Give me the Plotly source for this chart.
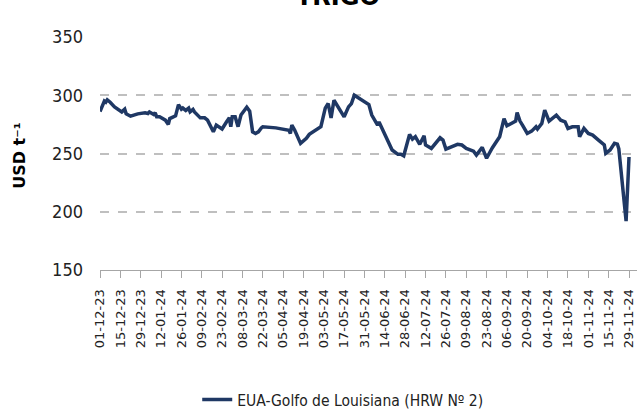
import plotly.graph_objects as go
import pandas as pd

dates = [
    "2023-12-01", "2023-12-03", "2023-12-04", "2023-12-05", "2023-12-06", "2023-12-08",
    "2023-12-11", "2023-12-16", "2023-12-18", "2023-12-19", "2023-12-22", "2023-12-27",
    "2024-01-01", "2024-01-03", "2024-01-04", "2024-01-07", "2024-01-08", "2024-01-09",
    "2024-01-11", "2024-01-15", "2024-01-17", "2024-01-18", "2024-01-22", "2024-01-24",
    "2024-01-26", "2024-01-27", "2024-01-29", "2024-01-31", "2024-02-01", "2024-02-03",
    "2024-02-04", "2024-02-08", "2024-02-11", "2024-02-13", "2024-02-17", "2024-02-19",
    "2024-02-23", "2024-02-26", "2024-02-28", "2024-02-29", "2024-03-01", "2024-03-03",
    "2024-03-05", "2024-03-07", "2024-03-09", "2024-03-11", "2024-03-13", "2024-03-15",
    "2024-03-17", "2024-03-19", "2024-03-21", "2024-03-22", "2024-03-31", "2024-04-09",
    "2024-04-10", "2024-04-11", "2024-04-13", "2024-04-15", "2024-04-17", "2024-04-21",
    "2024-04-23", "2024-05-01", "2024-05-03", "2024-05-04", "2024-05-06", "2024-05-08",
    "2024-05-10", "2024-05-13", "2024-05-15", "2024-05-17", "2024-05-20", "2024-05-22",
    "2024-05-24", "2024-05-27", "2024-05-30", "2024-06-03", "2024-06-05", "2024-06-07",
    "2024-06-09", "2024-06-10", "2024-06-12", "2024-06-16", "2024-06-19", "2024-06-23",
    "2024-06-25", "2024-06-27", "2024-06-28", "2024-07-01", "2024-07-03", "2024-07-05",
    "2024-07-08", "2024-07-11", "2024-07-12", "2024-07-16", "2024-07-22", "2024-07-24",
    "2024-07-26", "2024-08-03", "2024-08-06", "2024-08-09", "2024-08-14", "2024-08-16",
    "2024-08-20", "2024-08-23", "2024-08-27", "2024-09-01", "2024-09-04", "2024-09-06",
    "2024-09-09", "2024-09-12", "2024-09-13", "2024-09-15", "2024-09-17", "2024-09-20",
    "2024-09-23", "2024-09-26", "2024-09-27", "2024-09-30", "2024-10-02", "2024-10-05",
    "2024-10-10", "2024-10-13", "2024-10-16", "2024-10-18", "2024-10-21", "2024-10-25",
    "2024-10-26", "2024-10-29", "2024-11-01", "2024-11-04", "2024-11-08", "2024-11-12",
    "2024-11-13", "2024-11-16", "2024-11-19", "2024-11-21", "2024-11-22", "2024-11-27",
    "2024-11-29",
]

prices = [
    286, 292, 295, 294, 296, 294,
    290, 285.7, 288, 284, 282, 284,
    285, 284.3, 285.7, 283.5, 285, 281.5,
    281.5, 278.6, 275, 280, 282.3, 292,
    288, 289, 287, 289, 285.7, 287.8,
    285.7, 280.6, 280.6, 278.6, 268.6, 274.4,
    271, 277, 280.6, 273, 281.5, 281.5,
    273, 283, 286.3, 289.7, 286.3, 268.6,
    267.2, 268.6, 272, 273, 272, 270,
    267.2, 274.4, 270, 264.4, 258.7, 263,
    266.4, 273, 285.7, 289, 292.9, 280.6,
    295.7, 290, 285.7, 281.5, 290, 292.9,
    300, 297.7, 295.7, 292, 283, 278.6,
    274.4, 277, 271.5, 261.5, 253, 249.3,
    249.3, 248, 253, 266.4, 262.4, 264.4,
    257.9, 265.2, 257.3, 254.4, 263.5, 261.5,
    253.8, 257.9, 257.3, 254.4, 252, 248.7,
    255.3, 245.9, 255, 264.4, 280, 273.8,
    275.8, 277.8, 285.2, 277.8, 273.8, 267.2,
    269.2, 272.9, 271, 275.8, 287.2, 277.8,
    282.9, 278.6, 277.2, 271.5, 272.9, 272.9,
    264.4, 271.5, 267.2, 265.8, 261.5, 257.3,
    250.2, 253, 258.7, 258, 254, 192,
    247,
]

tick_dates = pd.date_range("2023-12-01", "2024-11-29", freq="14D")
tick_labels = [d.strftime("%d-%m-%y") for d in tick_dates]

series_name = "EUA-Golfo de Louisiana (HRW Nº 2)"
chart_title = "TRIGO"
y_title = "USD t⁻¹"

fig = go.Figure()
fig.add_trace(go.Scatter(
    x=pd.to_datetime(dates), y=prices, mode="lines", name=series_name,
    line=dict(color="#1F3864", width=3.5),
))

narrow = "Liberation Sans Narrow, Arial Narrow, DejaVu Sans Condensed, sans-serif"

fig.add_annotation(
    text="<b>" + chart_title + "</b>", xref="paper", yref="paper",
    x=0.443, y=1.1717, xanchor="center", yanchor="middle", showarrow=False,
    font=dict(family="DejaVu Sans", size=24, color="black"),
)
fig.add_annotation(
    text="<b>" + y_title + "</b>", xref="paper", yref="paper",
    x=-0.149, y=0.49, xanchor="center", yanchor="middle", showarrow=False,
    textangle=-90, font=dict(family="DejaVu Sans", size=16, color="black"),
)

fig.update_layout(
    width=638, height=412,
    margin=dict(l=100, r=1, t=37, b=142, autoexpand=False),
    paper_bgcolor="white", plot_bgcolor="white",
    showlegend=True,
    legend=dict(orientation="h", x=0.452, xanchor="center", y=-0.558, yanchor="middle",
                font=dict(family=narrow, size=15.5, color="#222222"),
                itemwidth=30, bgcolor="rgba(0,0,0,0)"),
    xaxis=dict(
        type="date", automargin=False,
        range=[pd.Timestamp("2023-12-01"), pd.Timestamp("2023-12-01") + pd.Timedelta(days=369.5)],
        tickvals=tick_dates, ticktext=tick_labels, tickangle=-90,
        tickfont=dict(family="DejaVu Sans", size=13, color="#222222"),
        ticks="outside", ticklen=7, tickcolor="#a6a6a6", tickwidth=1,
        showline=True, linecolor="#a6a6a6", linewidth=1,
        showgrid=False, zeroline=False, ticklabelstandoff=6,
    ),
    yaxis=dict(
        range=[150, 350], tickvals=[150, 200, 250, 300, 350], automargin=False,
        tickfont=dict(family=narrow, size=18, color="#222222"),
        showgrid=True, gridcolor="#bfbfbf", gridwidth=1.5, griddash="dash",
        showline=False, zeroline=False, ticks="", ticklabelstandoff=16,
    ),
)

fig.write_html(
    "out.html",
    config={"displayModeBar": False},
    post_script="document.body.style.margin='0';document.body.style.overflow='hidden';",
)
